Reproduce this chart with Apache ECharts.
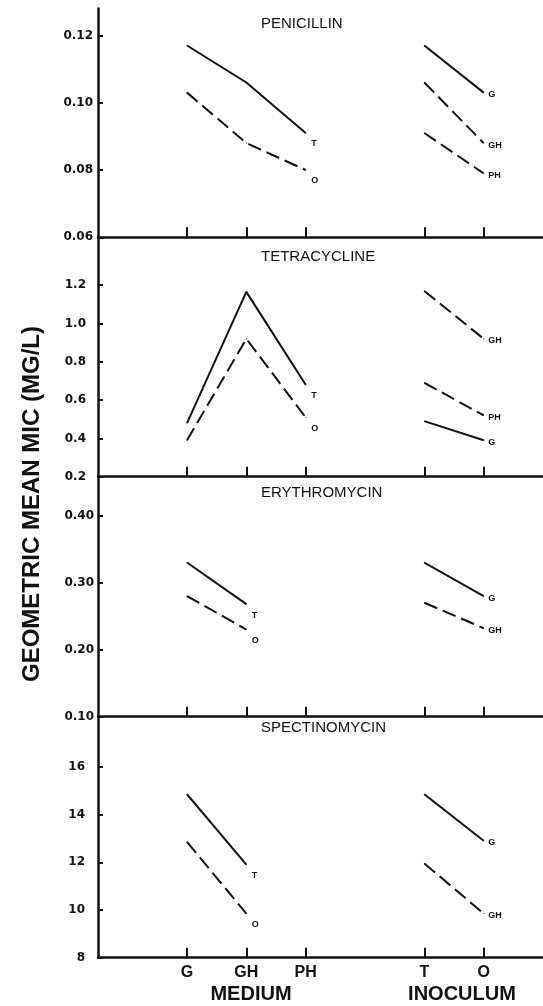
<!DOCTYPE html>
<html>
<head>
<meta charset="utf-8">
<script src="https://cdn.jsdelivr.net/npm/echarts@6/dist/echarts.min.js"></script>
<style>
html, body { margin: 0; padding: 0; background: #fff; }
#main { width: 543px; height: 1006px; }
</style>
</head>
<body>
<div id="main"></div>
<script>
// categories on the shared x axis
var medium = ['G', 'GH', 'PH'];
var inoculum = ['T', 'O'];

// penicillin
var penTicks = [0.06, 0.08, 0.10, 0.12];
var penMedT = [0.117, 0.106, 0.091];
var penMedO = [0.103, 0.088, 0.080];
var penInocG = [0.117, 0.103];
var penInocGH = [0.106, 0.088];
var penInocPH = [0.091, 0.079];

// tetracycline
var tetTicks = [0.2, 0.4, 0.6, 0.8, 1.0, 1.2];
var tetMedT = [0.48, 1.165, 0.68];
var tetMedO = [0.39, 0.92, 0.51];
var tetInocGH = [1.17, 0.92];
var tetInocPH = [0.69, 0.52];
var tetInocG = [0.49, 0.39];

// erythromycin
var eryTicks = [0.10, 0.20, 0.30, 0.40];
var eryMedT = [0.33, 0.268];
var eryMedO = [0.28, 0.23];
var eryInocG = [0.33, 0.28];
var eryInocGH = [0.27, 0.232];

// spectinomycin
var speTicks = [8, 10, 12, 14, 16];
var speMedT = [14.85, 11.9];
var speMedO = [12.85, 9.85];
var speInocG = [14.85, 12.9];
var speInocGH = [11.95, 9.85];

var panels = [
    { title: 'PENICILLIN', min: 0.06, max: 0.128, ticks: penTicks, digits: 2, margin: 5,
      med: [['T', penMedT, false], ['O', penMedO, true]],
      inoc: [['G', penInocG, false], ['GH', penInocGH, true], ['PH', penInocPH, true]] },
    { title: 'TETRACYCLINE', min: 0.2, max: 1.45, ticks: tetTicks, digits: 1, margin: 12,
      med: [['T', tetMedT, false], ['O', tetMedO, true]],
      inoc: [['GH', tetInocGH, true], ['PH', tetInocPH, true], ['G', tetInocG, false]] },
    { title: 'ERYTHROMYCIN', min: 0.1, max: 0.458, ticks: eryTicks, digits: 2, margin: 4,
      med: [['T', eryMedT, false], ['O', eryMedO, true]],
      inoc: [['G', eryInocG, false], ['GH', eryInocGH, true]] },
    { title: 'SPECTINOMYCIN', min: 8, max: 18.1, ticks: speTicks, digits: 0, margin: 13,
      med: [['T', speMedT, false], ['O', speMedO, true]],
      inoc: [['G', speInocG, false], ['GH', speInocGH, true]] }
];

// panel edges in px
var tops = [8.5, 237.3, 476.7, 716.7];
var bottoms = [237.3, 476.7, 716.7, 957.7];

// x slots: medium at 1.5.., inoculum at 5.5..
function medX(i) { return 1.5 + i; }
function inocX(i) { return 5.5 + i; }
var xTickVals = medium.map(function(c, i) { return medX(i); }).concat(inoculum.map(function(c, i) { return inocX(i); }));
var xTickNames = medium.concat(inoculum);

var ink = '#111';

function makeLine(idx, name, vals, dashed, posFn, isMed) {
    var data = vals.map(function(v, i) { return [posFn(i), v]; });
    var last = data.length - 1;
    data[last] = { value: data[last], label: { show: true, formatter: name } };
    return {
        type: 'line',
        xAxisIndex: idx,
        yAxisIndex: idx,
        data: data,
        symbol: 'circle',
        symbolSize: 1,
        showSymbol: true,
        silent: true,
        animation: false,
        itemStyle: { color: ink },
        lineStyle: { color: ink, width: 2, type: dashed ? [14, 6] : 'solid' },
        label: {
            show: false,
            position: 'right',
            distance: isMed ? 5 : 4,
            offset: isMed ? [0, 11] : [0, 2],
            fontFamily: 'Liberation Sans',
            fontSize: 9,
            fontWeight: 'bold',
            color: ink
        }
    };
}

var grids = [], xAxes = [], yAxes = [], series = [], titles = [];

panels.forEach(function(p, i) {
    grids.push({ left: 98, right: 0, top: tops[i], height: bottoms[i] - tops[i] });
    titles.push({
        text: p.title, left: 261, top: [16, 249, 485, 720][i], padding: 0,
        textStyle: { fontFamily: 'Liberation Sans', fontSize: 15, fontWeight: 'normal', color: ink }
    });
    xAxes.push({
        gridIndex: i, type: 'value', min: 0, max: 7.5,
        axisLine: { onZero: false, lineStyle: { color: ink, width: 2.5 } },
        axisTick: { show: true, inside: true, length: 10, customValues: xTickVals,
                    lineStyle: { color: ink, width: 2 } },
        axisLabel: {
            show: i === 3, customValues: xTickVals, margin: 7,
            formatter: function(v) {
                var k = xTickVals.indexOf(v);
                return k >= 0 ? xTickNames[k] : '';
            },
            fontFamily: 'Liberation Sans', fontSize: 16, fontWeight: 'bold', color: ink
        },
        splitLine: { show: false }
    });
    yAxes.push({
        gridIndex: i, type: 'value', min: p.min, max: p.max,
        axisLine: { show: true, onZero: false, lineStyle: { color: ink, width: 2.5 } },
        axisTick: { show: true, inside: true, length: 5, customValues: p.ticks,
                    lineStyle: { color: ink, width: 2 } },
        axisLabel: {
            customValues: p.ticks, margin: p.margin,
            formatter: (function(d) { return function(v) { return v.toFixed(d); }; })(p.digits),
            fontFamily: 'DejaVu Sans', fontSize: 12, fontWeight: 'bold', color: ink
        },
        splitLine: { show: false }
    });
    p.med.forEach(function(s) {
        series.push(makeLine(i, s[0], s[1], s[2], medX, true));
    });
    p.inoc.forEach(function(s) {
        series.push(makeLine(i, s[0], s[1], s[2], inocX, false));
    });
});

var chart = echarts.init(document.getElementById('main'));
chart.setOption({
    backgroundColor: '#fff',
    animation: false,
    title: titles,
    grid: grids,
    xAxis: xAxes,
    yAxis: yAxes,
    series: series,
    graphic: [
        { type: 'text', x: 32, y: 504, rotation: Math.PI / 2,
          style: { text: 'GEOMETRIC MEAN MIC (MG/L)', align: 'center', verticalAlign: 'middle',
                   fontFamily: 'Liberation Sans', fontSize: 24, fontWeight: 900, fill: ink } },
        { type: 'text', x: 251, y: 994,
          style: { text: 'MEDIUM', align: 'center', verticalAlign: 'middle',
                   fontFamily: 'Liberation Sans', fontSize: 20, fontWeight: 900, fill: ink } },
        { type: 'text', x: 462, y: 994,
          style: { text: 'INOCULUM', align: 'center', verticalAlign: 'middle',
                   fontFamily: 'Liberation Sans', fontSize: 20, fontWeight: 900, fill: ink } }
    ]
});
</script>
</body>
</html>
